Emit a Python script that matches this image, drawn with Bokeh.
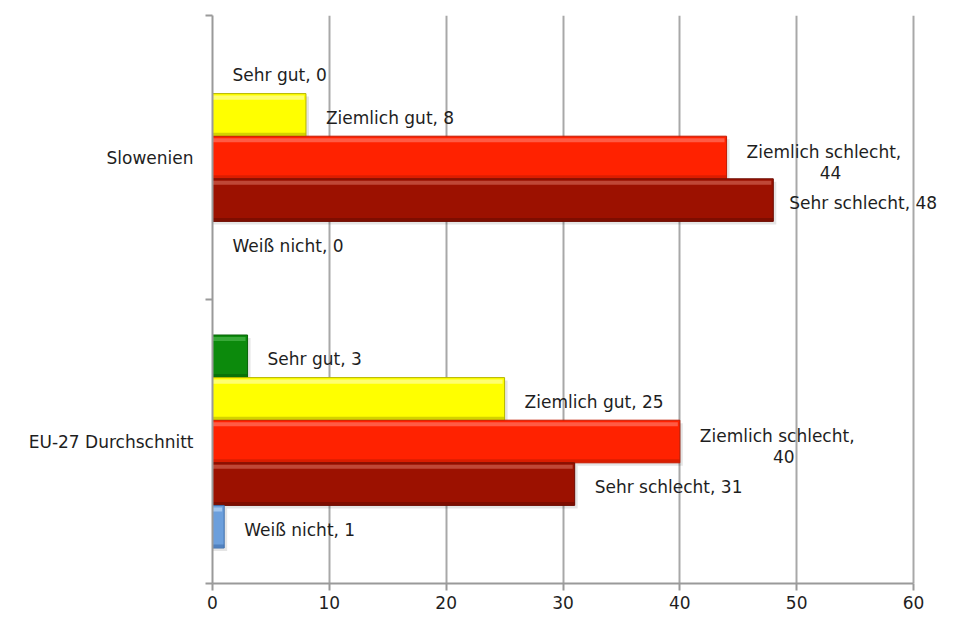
from bokeh.plotting import figure
from bokeh.models import ColumnDataSource, LabelSet, FixedTicker, Range1d
from bokeh.core.properties import value
from bokeh.embed import file_html
from bokeh.resources import INLINE

# ---- data ----
categories = ["Slowenien", "EU-27 Durchschnitt"]
series = ["Sehr gut", "Ziemlich gut", "Ziemlich schlecht", "Sehr schlecht", "Weiß nicht"]
slowenien = [0, 8, 44, 48, 0]
eu27 = [3, 25, 40, 31, 1]
x_ticks = [0, 10, 20, 30, 40, 50, 60]

# ---- styles ----
fills = ["#0c8a0c", "#ffff00", "#ff2200", "#9c1100", "#6c9fdc"]
lights = ["#45b045", "#ffff8c", "#ff6a55", "#c85544", "#b0cff2"]
darks = ["#066306", "#b5b500", "#c21a00", "#6b0b00", "#3f6eab"]
FONT = "DejaVu Sans"
FS = "17px"
TXT = "#1e1e1e"

W, H = 938, 611
LEFT, TOP = 212, 15
AX_W = 701                       # pixel width of the 0..60 axis
XMAX = x_ticks[-1]
x_end = XMAX * (W - LEFT) / AX_W  # extend range so labels past 60 aren't clipped

p = figure(width=W, height=H, output_backend="svg", toolbar_location=None,
           x_range=Range1d(0, x_end), y_range=Range1d(2, 0),
           min_border_left=LEFT, min_border_right=0, min_border_top=TOP,
           min_border_bottom=20)
p.outline_line_color = None
p.background_fill_color = "white"
p.border_fill_color = "white"

bar_h = 0.15
offsets = [-0.3, -0.15, 0.0, 0.15, 0.3]
px_y = 2 / 564.0          # approx data units per pixel (vertical)
px_x = XMAX / AX_W        # data units per pixel (horizontal)

ys, vals, cols, lcols, dcols, texts = [], [], [], [], [], []
for ci, (cat, arr) in enumerate(zip(categories, [slowenien, eu27])):
    for si, s in enumerate(series):
        ys.append(ci + 0.5 + offsets[si])
        vals.append(arr[si])
        cols.append(fills[si])
        lcols.append(lights[si])
        dcols.append(darks[si])
        texts.append(s)

# shadow
sh = ColumnDataSource(dict(y=[y + 3 * px_y for y in ys],
                           r=[v + 3 * px_x if v > 0 else 0 for v in vals]))
p.hbar(y="y", right="r", left=0, height=bar_h, source=sh,
       fill_color="#000000", fill_alpha=0.10, line_color=None)

src = ColumnDataSource(dict(y=ys, v=vals, c=cols, l=lcols, d=dcols))
p.hbar(y="y", right="v", left=0, height=bar_h, source=src,
       fill_color="c", line_color="d", line_width=1)
# bevel highlight (top) and shade (bottom)
hl = ColumnDataSource(dict(y=[y - bar_h / 2 + 4 * px_y for y in ys],
                           v=[max(v - 2 * px_x, 0) for v in vals], l=lcols))
p.hbar(y="y", right="v", left=0, height=4 * px_y, source=hl,
       fill_color="l", fill_alpha=0.8, line_color=None)
sd = ColumnDataSource(dict(y=[y + bar_h / 2 - 2 * px_y for y in ys],
                           v=vals, d=dcols))
p.hbar(y="y", right="v", left=0, height=3 * px_y, source=sd,
       fill_color="d", fill_alpha=0.6, line_color=None)

# data labels
vmax = max(slowenien + eu27)
single = dict(x=[], y=[], t=[], o=[])
line1 = dict(x=[], y=[], t=[])
line2 = dict(x=[], y=[], t=[])
for y, v, s in zip(ys, vals, texts):
    if s == "Ziemlich schlecht":
        line1["x"].append(v); line1["y"].append(y); line1["t"].append(f"{s},")
        line2["x"].append(v); line2["y"].append(y); line2["t"].append(f"{v}")
    else:
        single["x"].append(v); single["y"].append(y); single["t"].append(f"{s}, {v}")
        single["o"].append(16 if v == vmax else 20)

common = dict(text_font=value(FONT), text_font_size=FS, text_color=TXT,
              text_baseline="middle")
p.add_layout(LabelSet(x="x", y="y", text="t", source=ColumnDataSource(single),
                      x_offset="o", y_offset=-3, text_align="left", **common))
p.add_layout(LabelSet(x="x", y="y", text="t", source=ColumnDataSource(line1),
                      x_offset=20, y_offset=6, text_align="left", **common))
p.add_layout(LabelSet(x="x", y="y", text="t", source=ColumnDataSource(line2),
                      x_offset=104, y_offset=-15, text_align="center", **common))

# axes
ax_col = "#9a9a9a"
xa = p.xaxis[0]
xa.ticker = FixedTicker(ticks=x_ticks)
xa.bounds = (0, XMAX)
xa.axis_line_color = ax_col
xa.axis_line_width = 2
xa.major_tick_line_color = ax_col
xa.major_tick_line_width = 2
xa.major_tick_out = 7
xa.major_tick_in = 0
xa.minor_tick_line_color = None
xa.major_label_text_font = FONT
xa.major_label_text_font_size = FS
xa.major_label_text_color = TXT
xa.major_label_standoff = 5

ya = p.yaxis[0]
ya.ticker = FixedTicker(ticks=[0.5, 1.5], minor_ticks=[0, 1, 2])
ya.major_label_overrides = {0.5: categories[0], 1.5: categories[1]}
ya.axis_line_color = ax_col
ya.axis_line_width = 2
ya.major_tick_line_color = None
ya.major_tick_out = 0
ya.major_tick_in = 0
ya.minor_tick_line_color = ax_col
ya.minor_tick_line_width = 2
ya.minor_tick_out = 7
ya.minor_tick_in = 0
ya.major_label_text_font = FONT
ya.major_label_text_font_size = FS
ya.major_label_text_color = TXT
ya.major_label_standoff = 12

p.xgrid.ticker = FixedTicker(ticks=x_ticks)
p.xgrid.grid_line_color = "#a8a8a8"
p.xgrid.grid_line_width = 2
p.ygrid.grid_line_color = None

open("out.html", "w").write(file_html(p, INLINE))
